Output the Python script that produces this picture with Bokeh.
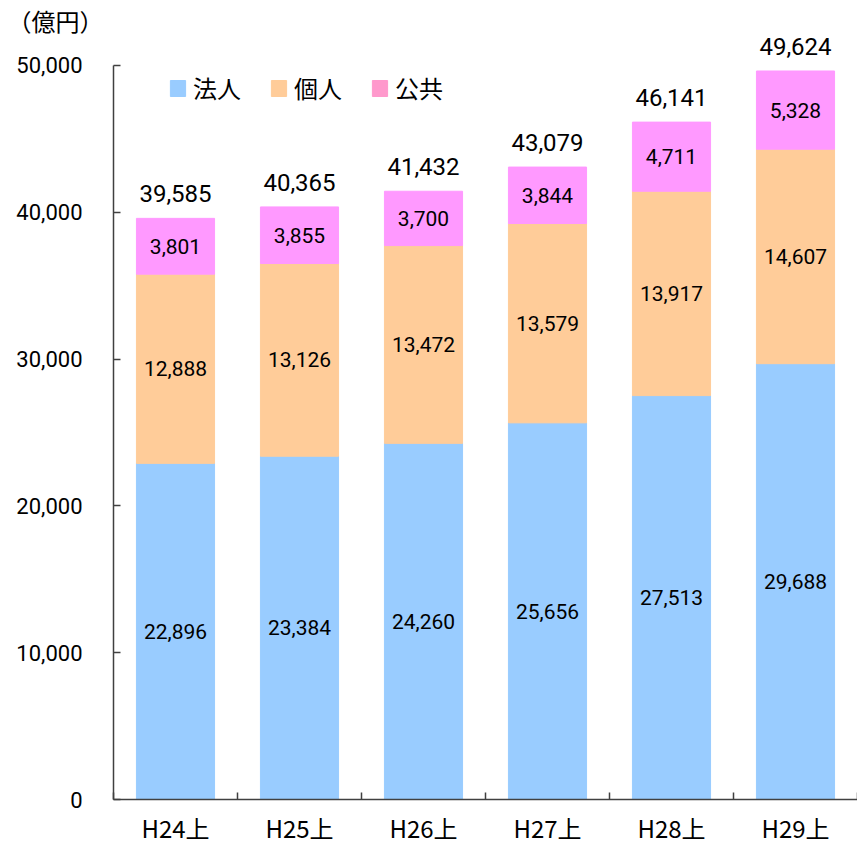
from bokeh.plotting import figure
from bokeh.models import (ColumnDataSource, Range1d, FixedTicker, NumeralTickFormatter,
                          LabelSet, Legend, LegendItem)
from bokeh.core.properties import value
from bokeh.embed import file_html
from bokeh.resources import INLINE

categories = ["H24上", "H25上", "H26上", "H27上", "H28上", "H29上"]
corporate = [22896, 23384, 24260, 25656, 27513, 29688]
individual = [12888, 13126, 13472, 13579, 13917, 14607]
public = [3801, 3855, 3700, 3844, 4711, 5328]
totals = [39585, 40365, 41432, 43079, 46141, 49624]
series_names = ["法人", "個人", "公共"]
y_ticks = [0, 10000, 20000, 30000, 40000, 50000]

BLUE, ORANGE, PINK = "#99CCFF", "#FFCC99", "#FF99FF"
LEG_PINK = "#FF99CC"
NUMFONT = "Roboto"
JPFONT = "Noto Sans CJK JP"

xs = [i + 0.5 for i in range(len(categories))]
b1 = [0] * len(categories)
t1 = corporate
t2 = [a + b for a, b in zip(t1, individual)]
t3 = [a + b for a, b in zip(t2, public)]

src = ColumnDataSource(dict(
    x=xs, b1=b1, t1=t1, t2=t2, t3=t3,
    m1=[(a + b) / 2 for a, b in zip(b1, t1)],
    m2=[(a + b) / 2 for a, b in zip(t1, t2)],
    m3=[(a + b) / 2 for a, b in zip(t2, t3)],
    l1=[f"{v:,}" for v in corporate],
    l2=[f"{v:,}" for v in individual],
    l3=[f"{v:,}" for v in public],
    tot=totals,
    ltot=[f"{v:,}" for v in totals],
))

FRAME_TOP = 37      # px from top of figure
FRAME_BOTTOM = 800
Y_TOP = 50000 * (FRAME_BOTTOM - FRAME_TOP) / 735.0

p = figure(width=857, height=847, output_backend="svg", toolbar_location=None,
           x_range=Range1d(0, len(categories)), y_range=Range1d(0, Y_TOP),
           min_border_left=113, min_border_right=0, min_border_top=FRAME_TOP,
           min_border_bottom=47)
p.outline_line_color = None
p.xgrid.visible = False
p.ygrid.visible = False
p.background_fill_color = "white"
p.border_fill_color = "white"

p.title.text = "（億円）"
p.title.align = "left"
p.title.offset = -106
p.title.standoff = 0
p.title.text_font = JPFONT
p.title.text_font_size = "24px"
p.title.text_font_style = "normal"
p.title.text_color = "black"

W = 0.63
r1 = p.vbar(x="x", bottom="b1", top="t1", width=W, source=src, fill_color=BLUE, line_color=BLUE)
r2 = p.vbar(x="x", bottom="t1", top="t2", width=W, source=src, fill_color=ORANGE, line_color=ORANGE)
r3 = p.vbar(x="x", bottom="t2", top="t3", width=W, source=src, fill_color=PINK, line_color=PINK)
r3_leg = p.vbar(x="x", bottom="t2", top="t3", width=W, source=src,
                fill_color=LEG_PINK, line_color=LEG_PINK, visible=False)

for m, l in (("m1", "l1"), ("m2", "l2"), ("m3", "l3")):
    p.add_layout(LabelSet(x="x", y=m, text=l, source=src, text_align="center",
                          text_baseline="middle", text_font=value(NUMFONT),
                          text_font_size="21px", text_color="black"))
p.add_layout(LabelSet(x="x", y="tot", text="ltot", source=src, text_align="center",
                      text_baseline="bottom", y_offset=16, text_font=value(NUMFONT),
                      text_font_size="24px", text_color="black"))

# axes
xa = p.xaxis[0]
xa.ticker = FixedTicker(ticks=xs, minor_ticks=list(range(len(categories) + 1)))
xa.major_label_overrides = {x: c for x, c in zip(xs, categories)}
xa.major_tick_in = 0
xa.major_tick_out = 0
xa.minor_tick_in = 7
xa.minor_tick_out = 0
xa.minor_tick_line_color = "#404040"
xa.minor_tick_line_width = 1.5
xa.axis_line_color = "#404040"
xa.axis_line_width = 1.5
xa.major_label_text_font = JPFONT
xa.major_label_text_font_size = "24px"
xa.major_label_text_color = "black"
xa.major_label_standoff = 10

ya = p.yaxis[0]
ya.ticker = FixedTicker(ticks=y_ticks, minor_ticks=[])
ya.bounds = (0, 50000)
ya.formatter = NumeralTickFormatter(format="0,0")
ya.major_tick_in = 7
ya.major_tick_out = 0
ya.major_tick_line_color = "#404040"
ya.major_tick_line_width = 1.5
ya.axis_line_color = "#404040"
ya.axis_line_width = 1.5
ya.major_label_text_font = NUMFONT
ya.major_label_text_font_size = "22px"
ya.major_label_text_color = "black"
ya.major_label_standoff = 31

# legend
leg_items = [LegendItem(label=n, renderers=[r]) for n, r in zip(series_names, (r1, r2, r3_leg))]
legend = Legend(items=leg_items, orientation="horizontal", location=(55, 694),
                glyph_width=19, glyph_height=20, label_standoff=6, spacing=28,
                padding=0, margin=0, border_line_color=None, background_fill_alpha=0,
                inactive_fill_alpha=0,
                label_text_font=JPFONT, label_text_font_size="24px",
                label_text_color="black")
p.add_layout(legend, "center")

open("out.html", "w").write(file_html(p, INLINE))
